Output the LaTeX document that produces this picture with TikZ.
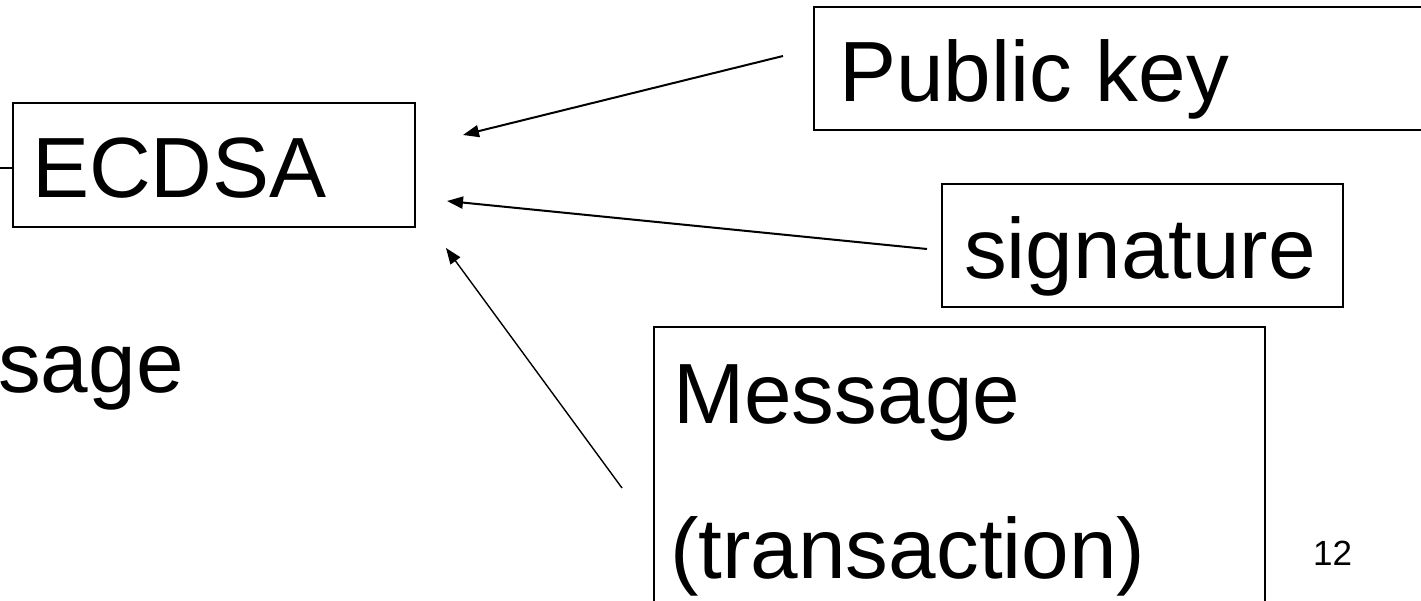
\documentclass[tikz,border=0pt]{standalone}
\usepackage{fontspec}
\setmainfont{Liberation Sans}
\usetikzlibrary{arrows.meta}
\tikzset{
  boxframe/.style={draw=black, line width=2pt, rectangle, inner sep=0pt},
  bigtext/.style={inner sep=0pt, anchor=base west, font=\fontsize{85.5pt}{100pt}\selectfont},
  pagenum/.style={inner sep=0pt, anchor=base west, font=\fontsize{35pt}{42pt}\selectfont},
  feed/.style={line width=2pt, -{Triangle[length=16pt,width=12pt]}},
  thinfeed/.style={line width=1.4pt, -{Triangle[length=16pt,width=12pt]}},
}
\begin{document}
\begin{tikzpicture}[x=1pt, y=-1pt]
  \useasboundingbox (0,0) rectangle (1421,601);
  \clip (0,0) rectangle (1421,601);

  % boxes
  \node[boxframe, minimum width=402pt, minimum height=124pt] (ecdsa) at (214,165) {};
  \node[boxframe, minimum width=630pt, minimum height=123pt] (pubkey) at (1129,68.5) {};
  \node[boxframe, minimum width=401pt, minimum height=123pt] (sig) at (1142.5,245.5) {};
  \node[boxframe, minimum width=611pt, minimum height=300pt] (msg) at (959.5,477) {};

  % labels
  \node[bigtext] (ecdsatext) at (32,198) {ECDSA};
  \node[bigtext] (pubtext) at (839,102) {Public key};
  \node[bigtext] (sigtext) at (964,279) {signature};
  \node[bigtext] (msgtext) at (673,423) {Message};
  \node[bigtext] (txtext) at (670,578) {(transaction)};
  \node[bigtext] (sagetext) at (-2,392) {sage};
  \node[pagenum] (pageno) at (1313,565) {12};

  % connector ends
  \coordinate (inlead) at (0,168);
  \coordinate (pubstart) at (783,56);
  \coordinate (pubtip) at (463,135);
  \coordinate (sigstart) at (927,249);
  \coordinate (sigtip) at (447,201);
  \coordinate (msgstart) at (622,488);
  \coordinate (msgtip) at (446,248);

  % connectors
  \draw[line width=2pt] (inlead) -- (ecdsa.west |- inlead);
  \draw[feed] (pubstart) -- (pubtip);
  \draw[feed] (sigstart) -- (sigtip);
  \draw[thinfeed] (msgstart) -- (msgtip);
\end{tikzpicture}
\end{document}
